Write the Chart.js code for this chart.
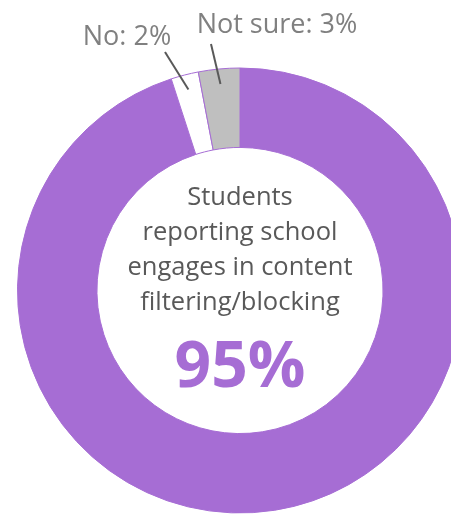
<!DOCTYPE html>
<html>
<head>
<meta charset="utf-8">
<script src="https://cdn.jsdelivr.net/npm/chart.js@4/dist/chart.umd.min.js"></script>
<style>
  html, body { margin: 0; padding: 0; background: #fff; overflow: hidden; }
  #wrap { width: 451px; height: 515px; overflow: hidden; position: relative; }
  canvas { position: absolute; left: 0; top: 0; }
</style>
</head>
<body>
<div id="wrap"><canvas id="donut" width="480" height="515"></canvas></div>
<script>
// Survey answers
const answers = ['Yes', 'No', 'Not sure'];
const shares = [95, 2, 3];
const sliceColors = ['#a66dd4', '#ffffff', '#bfbfbf'];
const centerLines = ['Students', 'reporting school', 'engages in content', 'filtering/blocking'];
const headline = '95%';

// Outside callouts for the small slices
const callouts = [
    { idx: 1, text: 'No: 2%', x: 127, y: 45, from: [165, 52] },
    { idx: 2, text: 'Not sure: 3%', x: 277, y: 33, from: [211, 44] }
];

const textPlugin = {
    id: 'donutText',
    afterDraw(chart) {
        const c = chart.ctx;
        const arc0 = chart.getDatasetMeta(0).data[0];
        const cx = arc0.x, cy = arc0.y;
        c.save();
        c.textAlign = 'center';
        c.textBaseline = 'alphabetic';

        // caption in the hole
        c.fillStyle = '#595959';
        c.font = '25.5px "Open Sans", sans-serif';
        centerLines.forEach((line, i) => {
            c.fillText(line, cx, 205 + i * 35);
        });

        // big percentage
        c.fillStyle = '#a66dd4';
        c.font = 'bold 64px "Open Sans", sans-serif';
        c.fillText(headline, cx, 387);

        // callout labels and leader lines
        c.font = '27px "Open Sans", sans-serif';
        callouts.forEach(co => {
            const arc = chart.getDatasetMeta(0).data[co.idx];
            const mid = (arc.startAngle + arc.endAngle) / 2;
            const r = arc.outerRadius - 15;
            c.strokeStyle = '#595959';
            c.lineWidth = 2;
            c.beginPath();
            c.moveTo(co.from[0], co.from[1]);
            c.lineTo(cx + Math.cos(mid) * r, cy + Math.sin(mid) * r);
            c.stroke();
            c.fillStyle = '#808080';
            c.fillText(co.text, co.x, co.y);
        });
        c.restore();
    }
};

new Chart(document.getElementById('donut'), {
    type: 'doughnut',
    data: {
        labels: answers,
        datasets: [{
            data: shares,
            backgroundColor: sliceColors,
            borderColor: '#a66dd4',
            borderWidth: 1
        }]
    },
    options: {
        responsive: false,
        animation: false,
        cutout: '64.3%',
        layout: { padding: { top: 67.5, bottom: 1.5, left: 17, right: 17 } },
        plugins: {
            legend: { display: false },
            tooltip: { enabled: false }
        }
    },
    plugins: [textPlugin]
});
</script>
</body>
</html>
